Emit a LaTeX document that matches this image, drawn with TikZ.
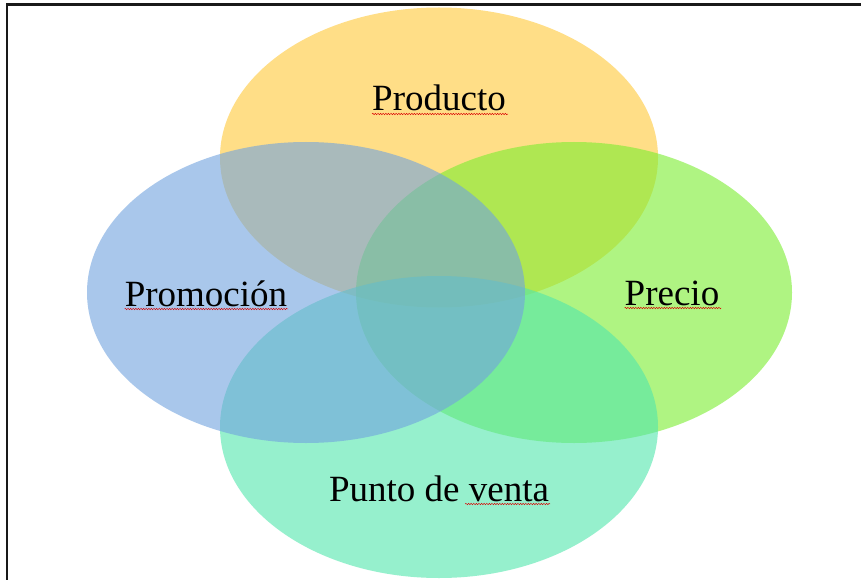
\documentclass[tikz,border=0pt]{standalone}
\usepackage{fontspec}
\setmainfont{Liberation Serif}
\usetikzlibrary{decorations.pathmorphing,calc}
\definecolor{cYellow}{RGB}{255,200,55}
\definecolor{cBlue}{RGB}{113,163,222}
\definecolor{cGreen}{RGB}{122,238,47}
\definecolor{cTeal}{RGB}{80,230,172}
\tikzset{
  venn/.style={fill opacity=0.6},
  lbl/.style={inner sep=0pt, anchor=base, font=\fontsize{37}{40}\selectfont, text=black},
  spell/.style={draw=red!85!black, line width=0.45pt, decorate,
    decoration={snake, amplitude=0.7pt, segment length=2.6pt}}
}
\begin{document}
\begin{tikzpicture}[x=1pt,y=-1pt]
\useasboundingbox (0,0) rectangle (861,580);
\fill[white] (0,0) rectangle (861,580);
% ellipses (drawn clockwise: top, right, bottom, left)
\fill[venn, cYellow] (439,157.5) ellipse [x radius=219, y radius=150];
\fill[venn, cGreen] (574,292.5) ellipse [x radius=218, y radius=150.5];
\fill[venn, cTeal] (439,427) ellipse [x radius=219, y radius=151];
\fill[venn, cBlue] (306,292.5) ellipse [x radius=219, y radius=150.5];
% labels
\node[lbl] (prod) at (439,111) {Producto};
\node[lbl] (prom) at (206,306) {Promoción};
\node[lbl] (prec) at (672,305) {Precio};
\node[lbl] (pv) at (439,501) {Punto de venta};
% spell-check underlines
\draw[spell] ($(prod.base west)+(0,3)$) -- ($(prod.base east)+(2,3)$);
\draw[spell] ($(prom.base west)+(0,3)$) -- ($(prom.base east)+(1,3)$);
\draw[spell] ($(prec.base west)+(0,3)$) -- ($(prec.base east)+(2,3)$);
\draw[spell] ($(pv.base east)+(-84,3)$) -- ($(pv.base east)+(1,3)$);
% frame (right and bottom sides lie outside the page)
\draw[line width=2.6pt, black!90] (7,600) -- (7,4.5) -- (880,4.5);
\end{tikzpicture}
\end{document}
